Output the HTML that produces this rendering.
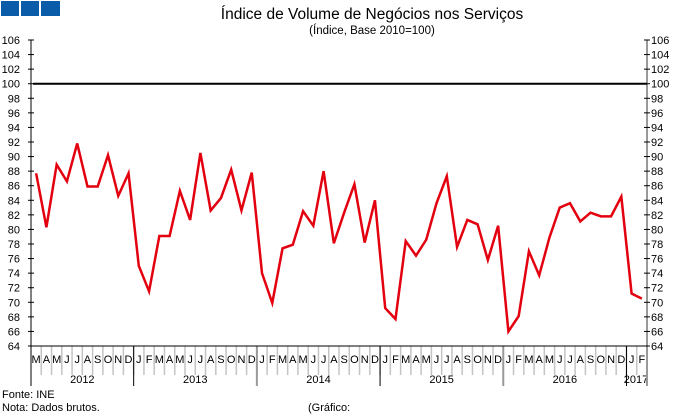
<!DOCTYPE html>
<html><head><meta charset="utf-8"><style>
body{margin:0;background:#fff;}
svg text{font-family:"Liberation Sans",Arial,sans-serif;}
</style></head><body>
<svg width="680" height="415" viewBox="0 0 680 415" id="c">
<rect x="0" y="0" width="680" height="415" fill="#fff"/>
<g>
<rect x="1" y="1" width="18" height="15" fill="#0b5ca8"/>
<rect x="21" y="1" width="18" height="15" fill="#0b5ca8"/>
<rect x="41" y="1" width="19" height="15" fill="#0b5ca8"/>
</g>
<text x="372" y="19" font-size="15.5" text-anchor="middle">Índice de Volume de Negócios nos Serviços</text>
<text x="372" y="34" font-size="11.5" text-anchor="middle">(Índice, Base 2010=100)</text>
<text x="2" y="398" font-size="11">Fonte: INE</text>
<text x="2" y="411" font-size="11">Nota: Dados brutos.</text>
<text x="308" y="411" font-size="11">(Gráfico:</text>
</svg>
<script>
const yTicks=[64,66,68,70,72,74,76,78,80,82,84,86,88,90,92,94,96,98,100,102,104,106];
const months=["M","A","M","J","J","A","S","O","N","D","J","F","M","A","M","J","J","A","S","O","N","D","J","F","M","A","M","J","J","A","S","O","N","D","J","F","M","A","M","J","J","A","S","O","N","D","J","F","M","A","M","J","J","A","S","O","N","D","J","F"];
const years=["2012","2013","2014","2015","2016","2017"];
const yearStart=[0,10,22,34,46,58];
const values=[87.7,80.3,88.9,86.6,91.8,85.9,85.9,90.2,84.6,87.7,
75.0,71.5,79.1,79.1,85.3,81.3,90.5,82.6,84.3,88.2,82.6,87.8,
74.0,69.9,77.4,77.9,82.5,80.5,88.0,78.1,82.3,86.2,78.2,84.0,
69.2,67.7,78.4,76.4,78.6,83.6,87.3,77.6,81.3,80.7,75.8,80.5,
66.0,68.1,77.0,73.7,78.9,83.0,83.6,81.1,82.3,81.8,81.8,84.5,
71.2,70.5];
const refValue=100;
const svg=document.getElementById('c');
const NS="http://www.w3.org/2000/svg";
const L=31,R=647,T=40,B=346,yMin=64,yMax=106;
const n=months.length,step=(R-L)/n;
const xb=i=>L+step*i;
const xc=i=>L+step*(i+0.5);
const y=v=>B-(v-yMin)/(yMax-yMin)*(B-T);
function mk(t,a){const e=document.createElementNS(NS,t);for(const k in a)e.setAttribute(k,a[k]);svg.appendChild(e);return e;}
for(let i=1;i<n;i++){
 const e=mk('line',{x1:xb(i),x2:xb(i),y1:B,y2:375,stroke:'#c4c4c4','stroke-width':1.5});
 
 
}
months.forEach((m,i)=>{
 const t=mk('text',{x:xc(i),y:363,'font-size':11,'text-anchor':'middle'});t.textContent=m;
 
 
});
yearStart.forEach((s,k)=>{
 if(k>0){const e=mk('line',{x1:xb(s),x2:xb(s),y1:B,y2:386,stroke:k%2?'#000':'#999','stroke-width':k%2?1:2});
 
 }
 const end=k+1<yearStart.length?yearStart[k+1]:n;
 const t=mk('text',{x:Math.min((xb(s)+xb(end))/2,636),y:383,'font-size':11,'text-anchor':'middle'});t.textContent=years[k];
 
 
});
const e1=mk('line',{x1:L,x2:L,y1:T,y2:386,stroke:'#000'});


const e2=mk('line',{x1:R,x2:R,y1:T,y2:386,stroke:'#999','stroke-width':2});


const e3=mk('line',{x1:L,x2:R,y1:B,y2:B,stroke:'#000'});


yTicks.forEach(v=>{
 mk('line',{x1:L-3,x2:L+3,y1:y(v),y2:y(v),stroke:'#000'});
 mk('line',{x1:R-3,x2:R+3,y1:y(v),y2:y(v),stroke:'#000'});
 const a=mk('text',{x:20,y:y(v)+4,'font-size':11,'text-anchor':'end'});a.textContent=v;
 
 
 const b=mk('text',{x:651,y:y(v)+4,'font-size':11});b.textContent=v;
 
 
});
const ref=mk('line',{x1:L+2,x2:R,y1:y(refValue),y2:y(refValue),stroke:'#000','stroke-width':2});


const p=mk('polyline',{points:values.map((v,i)=>xc(i)+','+y(v)).join(' '),fill:'none',stroke:'#e3000f','stroke-width':2.5,'stroke-linejoin':'miter'});


</script>
</body></html>
